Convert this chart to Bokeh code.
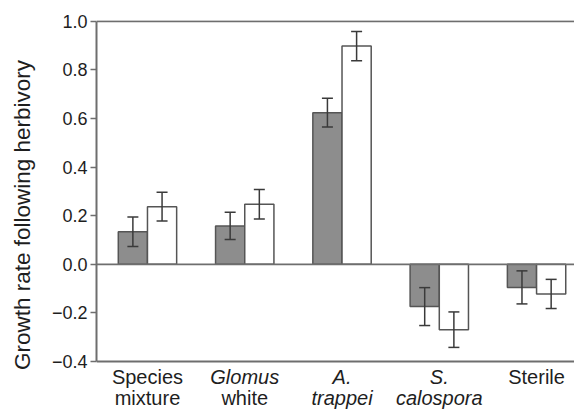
from bokeh.plotting import figure
from bokeh.models import (ColumnDataSource, Whisker, Span, FixedTicker,
                          CustomJSTickFormatter, Range1d, TeeHead)
from bokeh.core.properties import value
from bokeh.embed import file_html
from bokeh.resources import INLINE

# ---- data ----
categories = ["Species mixture", "Glomus white", "A. trappei", "S. calospora", "Sterile"]
label_line1 = ["Species", "Glomus", "A.", "S.", "Sterile"]
label_line2 = ["mixture", "white", "trappei", "calospora", ""]
line1_italic = [False, True, True, True, False]
line2_italic = [False, False, True, True, False]
gray_values = [0.134, 0.158, 0.624, -0.174, -0.095]
gray_err = [0.061, 0.056, 0.059, 0.078, 0.068]
white_values = [0.237, 0.247, 0.898, -0.269, -0.122]
white_err = [0.059, 0.061, 0.060, 0.073, 0.060]
y_ticks = [-0.4, -0.2, 0.0, 0.2, 0.4, 0.6, 0.8, 1.0]
y_min, y_max = -0.4, 1.0

FONT = "Liberation Sans"
AXIS_COLOR = "#6e6e6e"
TEXT_COLOR = "#1e1e1e"
ERR_COLOR = "#3a3a3a"
BAR_W = 0.3
PX_PER_UNIT = 243.0

idx = list(range(len(categories)))
gx = [i - BAR_W / 2 for i in idx]
wx = [i + BAR_W / 2 for i in idx]

gray_src = ColumnDataSource(dict(
    x=gx, top=gray_values,
    upper=[v + e for v, e in zip(gray_values, gray_err)],
    lower=[v - e for v, e in zip(gray_values, gray_err)]))
white_src = ColumnDataSource(dict(
    x=wx, top=white_values,
    upper=[v + e for v, e in zip(white_values, white_err)],
    lower=[v - e for v, e in zip(white_values, white_err)]))

# frame extends below the axis to host the category labels
top_pad = 20
frame_h = 409 - top_pad
y_top = y_max + 0.8 / PX_PER_UNIT
y_bot = y_top - frame_h / PX_PER_UNIT

p = figure(width=574, height=409, output_backend="svg", toolbar_location=None,
           x_range=Range1d(-0.524, 4.39), y_range=Range1d(y_bot, y_top),
           min_border_left=96, min_border_right=0, min_border_top=top_pad,
           min_border_bottom=0)
p.outline_line_color = None
p.xgrid.visible = False
p.ygrid.visible = False
p.xaxis.visible = False
p.background_fill_color = "white"

p.vbar(x="x", width=BAR_W, top="top", bottom=0, source=gray_src,
       fill_color="#8d8d8d", line_color="#555555", line_width=1.5)
p.vbar(x="x", width=BAR_W, top="top", bottom=0, source=white_src,
       fill_color="white", line_color="#555555", line_width=1.5)

for src in (gray_src, white_src):
    w = Whisker(base="x", upper="upper", lower="lower", source=src,
                line_color=ERR_COLOR, line_width=1.5, level="annotation",
                upper_head=TeeHead(size=11, line_color=ERR_COLOR, line_width=1.5),
                lower_head=TeeHead(size=11, line_color=ERR_COLOR, line_width=1.5))
    p.add_layout(w)

p.add_layout(Span(location=0, dimension="width", line_color=AXIS_COLOR, line_width=1.7))
p.add_layout(Span(location=y_max, dimension="width", line_color=AXIS_COLOR, line_width=2))
p.add_layout(Span(location=y_min, dimension="width", line_color=AXIS_COLOR, line_width=2))

# y axis
p.yaxis.bounds = (y_min, y_max)
p.yaxis.ticker = FixedTicker(ticks=y_ticks)
p.yaxis.formatter = CustomJSTickFormatter(
    code="return (tick < -1e-9 ? '\u2212' : '') + Math.abs(tick).toFixed(1);")
p.yaxis.axis_line_color = AXIS_COLOR
p.yaxis.axis_line_width = 2
p.yaxis.major_tick_line_color = AXIS_COLOR
p.yaxis.major_tick_line_width = 1.5
p.yaxis.major_tick_out = 6
p.yaxis.major_tick_in = 0
p.yaxis.minor_tick_line_color = None
p.yaxis.major_label_text_font = FONT
p.yaxis.major_label_text_font_size = "18px"
p.yaxis.major_label_text_color = TEXT_COLOR
p.yaxis.major_label_standoff = 3
p.yaxis.axis_label = "Growth rate following herbivory"
p.yaxis.axis_label_text_font = FONT
p.yaxis.axis_label_text_font_size = "22.5px"
p.yaxis.axis_label_text_font_style = "normal"
p.yaxis.axis_label_text_color = TEXT_COLOR
p.yaxis.axis_label_standoff = 14

# category labels (two lines, some italic)
line1_y = y_min - 15 / PX_PER_UNIT
line2_y = y_min - 36 / PX_PER_UNIT
for lines, italics, yy in ((label_line1, line1_italic, line1_y),
                           (label_line2, line2_italic, line2_y)):
    for style in ("normal", "italic"):
        xs = [i for i in idx if lines[i] and (italics[i] == (style == "italic"))]
        if not xs:
            continue
        p.text(x=xs, y=[yy] * len(xs), text=[lines[i] for i in xs],
               text_align="center", text_baseline="alphabetic",
               text_font=value(FONT), text_font_size=value("20px"),
               text_font_style=value(style), text_color=TEXT_COLOR)

open("out.html", "w").write(file_html(p, INLINE))
